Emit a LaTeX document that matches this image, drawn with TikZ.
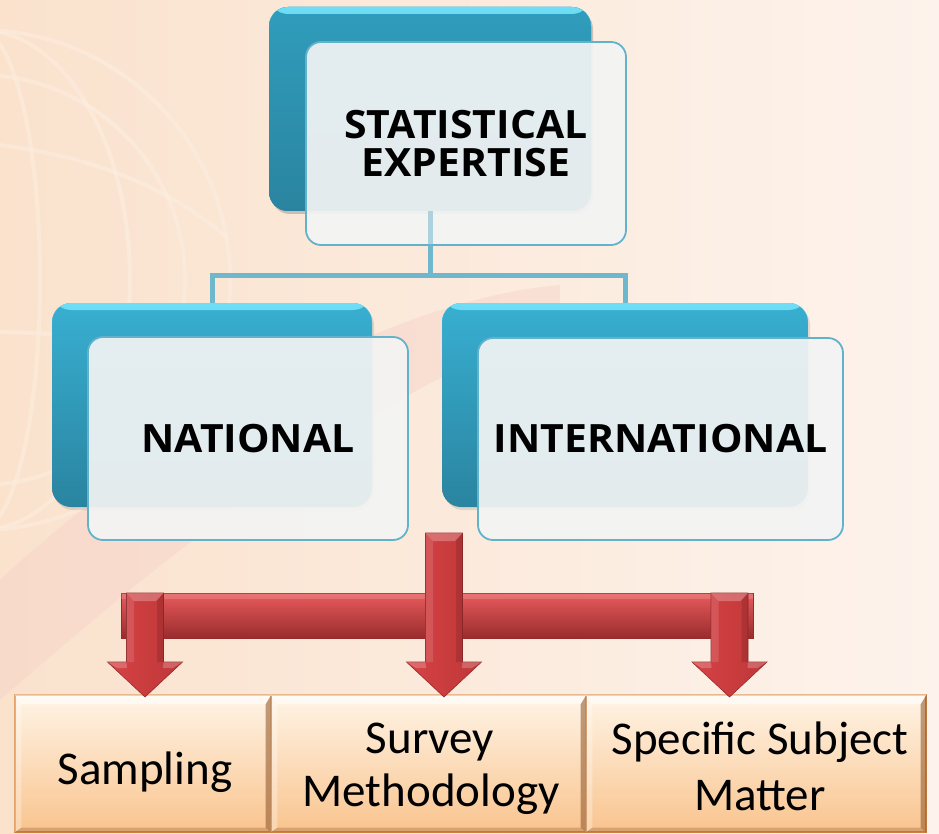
\documentclass[tikz,border=0pt]{standalone}
\usepackage{fontspec}
\newfontfamily\titlefont[FakeStretch=1.05]{Open Sans}
\newfontfamily\bodyfont{Carlito}
\usetikzlibrary{shadows}
\definecolor{bgL}{HTML}{FAE2CD}
\definecolor{bgR}{HTML}{FDF3EC}
\definecolor{globe}{HTML}{FDF0E4}
\definecolor{swoosh}{HTML}{F5CFC6}
\definecolor{tealT}{HTML}{38AFD1}
\definecolor{tealB}{HTML}{2A84A0}
\definecolor{tealTopT}{HTML}{309DBC}
\definecolor{tealTopB}{HTML}{297C96}
\definecolor{tealHL}{HTML}{6FDDF5}
\definecolor{frontfill}{HTML}{F3F4F4}
\definecolor{frontline}{HTML}{62B2CC}
\definecolor{connc}{HTML}{6FB7CD}
\definecolor{redT}{HTML}{E85B5C}
\definecolor{redM}{HTML}{C93A3C}
\definecolor{redB}{HTML}{9A2C2E}
\definecolor{redL}{HTML}{D64244}
\definecolor{redR}{HTML}{BE3739}
\definecolor{redEdge}{HTML}{962A2C}
\definecolor{orT}{HTML}{FFF4E6}
\definecolor{orB}{HTML}{F9C48E}
\definecolor{orLine}{HTML}{DB8C46}
\definecolor{orDark}{HTML}{8A5226}
\tikzset{
  backbox/.style={rectangle, rounded corners=19pt, inner sep=0pt,
    top color=#1, bottom color=tealB,
    drop shadow={shadow xshift=2pt, shadow yshift=-3pt, opacity=.22},
    path picture={\shade[top color=tealHL, bottom color=#1]
      (path picture bounding box.north west) rectangle ([yshift=-7pt]path picture bounding box.north east);}},
  frontbox/.style={rectangle, rounded corners=15pt, inner sep=0pt,
    fill=frontfill, fill opacity=.92, text opacity=1, draw=frontline, line width=1.8pt,
    font=\titlefont\bfseries\fontsize{39}{38}\selectfont, align=center, text=black},
  conn/.style={draw=connc, line width=5pt, line join=miter},
  orbox/.style={rectangle, inner sep=0pt, minimum height=137pt,
    top color=orT, bottom color=orB, draw=orLine, line width=1.2pt},
  bodytext/.style={font=\bodyfont\fontsize{47}{53}\selectfont, text=black, inner sep=0pt, anchor=base},
  redfill/.style={left color=redL, right color=redR, draw=redEdge, line width=.6pt}
}
\newcommand\bevelbox[1]{%
  \fill[white, opacity=.6] (#1.north west) -- (#1.north east) -- ([xshift=-6pt,yshift=-10pt]#1.north east) -- ([xshift=7pt,yshift=-10pt]#1.north west) -- cycle;
  \fill[white, opacity=.3] (#1.north west) -- ([xshift=7pt,yshift=-10pt]#1.north west) -- ([xshift=7pt,yshift=5pt]#1.south west) -- (#1.south west) -- cycle;
  \fill[orDark, opacity=.55] (#1.north east) -- (#1.south east) -- ([xshift=-6pt,yshift=5pt]#1.south east) -- ([xshift=-6pt,yshift=-10pt]#1.north east) -- cycle;
  \fill[orDark, opacity=.3] (#1.south west) -- ([xshift=7pt,yshift=5pt]#1.south west) -- ([xshift=-6pt,yshift=5pt]#1.south east) -- (#1.south east) -- cycle;
}
% #1 = x centre, #2 = top y, #3 = tip y
\newcommand\redarrow[3]{%
  \path[redfill] ({#1-18.5},#2) -- ({#1+18.5},#2) -- ({#1+18.5},{#3-35}) -- ({#1+37.5},{#3-35})
     -- (#1,#3) -- ({#1-37.5},{#3-35}) -- ({#1-18.5},{#3-35}) -- cycle;
  \fill[white, opacity=.12] ({#1-18.5},#2) -- ({#1-18.5},{#3-35}) -- ({#1-11},{#3-35}) -- ({#1-11},{#2+8}) -- cycle;
  \fill[white, opacity=.25] ({#1-18.5},#2) -- ({#1+18.5},#2) -- ({#1+11},{#2+8}) -- ({#1-11},{#2+8}) -- cycle;
  \fill[white, opacity=.22] ({#1-37.5},{#3-35}) -- ({#1-18.5},{#3-35}) -- ({#1-18},{#3-29}) -- ({#1-28},{#3-29}) -- cycle;
  \fill[white, opacity=.22] ({#1+37.5},{#3-35}) -- ({#1+18.5},{#3-35}) -- ({#1+18},{#3-29}) -- ({#1+28},{#3-29}) -- cycle;
  \fill[black, opacity=.12] ({#1+18.5},#2) -- ({#1+18.5},{#3-35}) -- ({#1+12},{#3-35}) -- ({#1+12},{#2+8}) -- cycle;
}
\begin{document}
\begin{tikzpicture}[x=1pt, y=-1pt]
\useasboundingbox (0,0) rectangle (939,834);
% background
\shade[left color=bgL, right color=bgR] (0,0) rectangle (939,834);
\begin{scope}
  \clip (0,0) rectangle (939,834);
  \fill[swoosh, opacity=.4] (560,285) .. controls (380,300) and (150,440) .. (0,580)
      -- (0,700) .. controls (160,560) and (380,380) .. (560,330) -- cycle;
  \begin{scope}[globe, line width=4pt, opacity=.45]
    \draw (-20,280) circle (250);
    \draw (-20,280) circle (205);
    \begin{scope}
      \clip (-20,280) circle (250);
      \draw (-20,280) ellipse (150 and 250);
      \draw (-20,280) ellipse (60 and 250);
      \draw (-270,160) .. controls (-20,110) and (150,160) .. (240,250);
      \draw (-270,380) .. controls (-20,300) and (150,330) .. (240,400);
    \end{scope}
  \end{scope}
\end{scope}
% back boxes
\node[backbox=tealTopT, minimum width=322pt, minimum height=204pt] (topback) at (430,109) {};
\coordinate (bus) at (430,275);
\node[backbox=tealT, minimum width=320pt, minimum height=204pt] (leftback) at (212,405) {};
\node[backbox=tealT, minimum width=366pt, minimum height=204pt] (rightback) at (625,405) {};
% connectors
\draw[conn] (topback.center) -- (bus);
\draw[conn] (leftback.north) |- (bus) -| (rightback.north);
% redraw top back box over connector end
\node[backbox=tealTopT, minimum width=322pt, minimum height=204pt] at (topback) {};
% front boxes
\node[frontbox, minimum width=320pt, minimum height=203pt] (topfront) at (466,143.5) {STATISTICAL\\EXPERTISE};
\draw[conn, opacity=.5] (topback.south) -- (topfront.south -| topback.south);
\node[frontbox, minimum width=320pt, minimum height=203pt] (leftfront) at (248,438.5) {NATIONAL};
\node[frontbox, minimum width=365pt, minimum height=202pt] (rightfront) at (660.5,439) {INTERNATIONAL};
% bottom boxes
\node[orbox, minimum width=256pt] (samp) at (143,763.5) {};
\node[orbox, minimum width=315pt] (surv) at (428.5,763.5) {};
\node[orbox, minimum width=340pt] (spec) at (756,763.5) {};
\bevelbox{samp}
\bevelbox{surv}
\bevelbox{spec}
\node[bodytext] (t1) at (145,784) {Sampling};
\node[bodytext] (t2a) at (430,753) {Survey};
\node[bodytext] (t2b) at (431,806) {Methodology};
\node[bodytext] (t3a) at (760,754) {Specific Subject};
\node[bodytext] (t3b) at (760,810) {Matter};
% red arrows
\shade[top color=redT, middle color=redM, bottom color=redB, draw=redEdge, line width=.6pt] (121,593) rectangle (753,638);
\fill[white, opacity=.15] (121,593) rectangle (753,599);
\redarrow{145}{593}{697}
\redarrow{729.5}{593}{697}
\redarrow{444}{533}{697}
\end{tikzpicture}
\end{document}
